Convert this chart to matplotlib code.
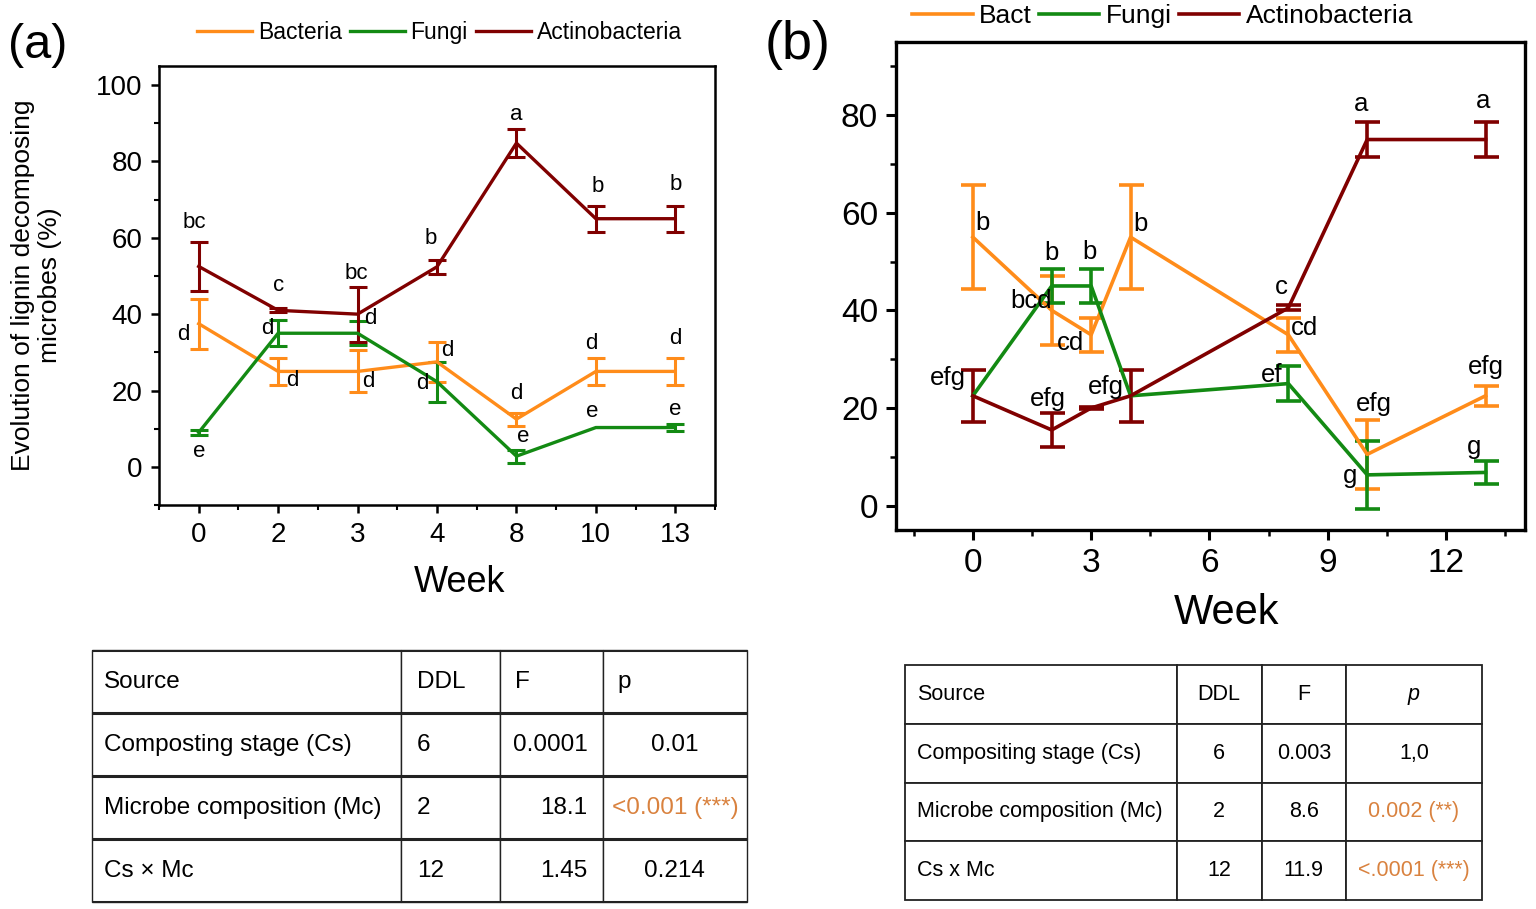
import numpy as np
import matplotlib.pyplot as plt
from matplotlib.ticker import MultipleLocator
from matplotlib.table import Table

plt.rcParams['font.family'] = ['Liberation Sans', 'DejaVu Sans']

c_bact = '#FF8C1A'
c_fung = '#138A13'
c_acti = '#800000'
c_sig = '#D9823F'

## Panel (a): categorical weeks
weeks_a = ['0', '2', '3', '4', '8', '10', '13']
bact_a = [37.5, 25, 25, 27.5, 12.5, 25, 25]
bact_a_err = [6.5, 3.5, 5.5, 5.2, 1.7, 3.5, 3.5]
fung_a = [9, 35, 35, 22.3, 2.8, 10.3, 10.3]
fung_a_err = [0.7, 3.4, 3.2, 5.2, 1.7, np.nan, 0.8]
acti_a = [52.5, 41, 40, 52.4, 84.8, 65, 65]
acti_a_err = [6.5, 0.5, 7.2, 1.8, 3.6, 3.4, 3.4]

## Panel (a): significance letters (x index, y, letter)
bact_a_lab = ['d', 'd', 'd', 'd', 'd', 'd', 'd']
bact_a_lx = [-0.19, 1.18, 2.14, 3.13, 4.0, 4.94, 6.0]
bact_a_ly = [34.8, 22.5, 22.3, 30.6, 19.2, 32.3, 33.6]
fung_a_lab = ['e', 'd', 'd', 'd', 'e', 'e', 'e']
fung_a_lx = [0.0, 0.86, 2.16, 2.81, 4.09, 4.96, 6.0]
fung_a_ly = [3.9, 36.2, 38.9, 21.8, 7.9, 14.4, 15.0]
acti_a_lab = ['bc', 'c', 'bc', 'b', 'a', 'b', 'b']
acti_a_lx = [-0.05, 1.0, 1.98, 2.92, 4.0, 5.02, 6.0]
acti_a_ly = [64.0, 47.4, 50.7, 59.7, 92.3, 73.4, 74.0]

## Panel (b): numeric weeks
weeks_b = [0, 2, 3, 4, 8, 10, 13]
bact_b = [55, 40, 35, 55, 35, 10.5, 22.5]
bact_b_err = [10.6, 7, 3.5, 10.6, 3.5, 7, 2]
fung_b = [22.5, 45, 45, 22.5, 25, 6.3, 6.8]
fung_b_err = [np.nan, 3.5, 3.5, np.nan, 3.6, 7, 2.4]
acti_b = [22.5, 15.5, 20, 22.5, 40.5, 75, 75]
acti_b_err = [5.3, 3.5, 0.3, 5.3, 0.5, 3.5, 3.5]

bact_b_lab = ['b', 'bcd', 'cd', 'b', 'cd', 'efg', 'efg']
bact_b_lx = [0.24, 1.47, 2.48, 4.26, 8.4, 10.16, 13.0]
bact_b_ly = [58.0, 41.9, 33.4, 57.6, 36.3, 20.8, 28.4]
fung_b_lab = ['b', 'b', 'ef', 'g', 'g']
fung_b_lx = [1.99, 2.95, 7.58, 9.57, 12.71]
fung_b_ly = [51.8, 52.0, 26.8, 6.0, 12.0]
acti_b_lab = ['efg', 'efg', 'efg', 'c', 'a', 'a']
acti_b_lx = [-0.64, 1.89, 3.38, 7.81, 9.85, 12.94]
acti_b_ly = [26.1, 21.8, 24.4, 44.8, 82.2, 82.9]

## ANOVA tables
tab_header = ['Source', 'DDL', 'F', 'p']
tab_a_source = ['Composting stage (Cs)', 'Microbe composition (Mc)', 'Cs \u00d7 Mc']
tab_a_ddl = ['6', '2', '12']
tab_a_f = ['0.0001', '18.1', '1.45']
tab_a_p = ['0.01', '<0.001 (***)', '0.214']
tab_a_sig = [False, True, False]

tab_b_source = ['Compositing stage (Cs)', 'Microbe composition (Mc)', 'Cs x Mc']
tab_b_ddl = ['6', '2', '12']
tab_b_f = ['0.003', '8.6', '11.9']
tab_b_p = ['1,0', '0.002 (**)', '<.0001 (***)']
tab_b_sig = [False, True, True]


fig = plt.figure(figsize=(15.36, 9.09), dpi=100)

## ---------------- panel (a)
ax1 = fig.add_axes([0.1035, 0.4444, 0.362, 0.483])
xa = np.arange(len(weeks_a))
handles, names = [], []
for vals, errs, col, name in [(bact_a, bact_a_err, c_bact, 'Bacteria'),
                              (fung_a, fung_a_err, c_fung, 'Fungi'),
                              (acti_a, acti_a_err, c_acti, 'Actinobacteria')]:
    cont = ax1.errorbar(xa, vals, yerr=errs, color=col, lw=2.4, elinewidth=2.2,
                        capsize=6.5, capthick=2.2)
    handles.append(cont[0])
    names.append(name)
for lab, lx, ly in [(bact_a_lab, bact_a_lx, bact_a_ly),
                    (fung_a_lab, fung_a_lx, fung_a_ly),
                    (acti_a_lab, acti_a_lx, acti_a_ly)]:
    for t, x, y in zip(lab, lx, ly):
        ax1.text(x, y, t, ha='center', va='center', fontsize=16, color='black')

ax1.set_xlim(-0.5, 6.5)
ax1.set_ylim(-10, 105)
ax1.set_xticks(xa)
ax1.set_xticklabels(weeks_a)
ax1.xaxis.set_minor_locator(MultipleLocator(0.5))
ax1.set_yticks([0, 20, 40, 60, 80, 100])
ax1.yaxis.set_minor_locator(MultipleLocator(10))
ax1.tick_params(which='major', direction='out', length=6, width=1.8, labelsize=20, pad=6)
ax1.tick_params(which='minor', direction='out', length=3.5, width=1.5)
for sp in ax1.spines.values():
    sp.set_linewidth(1.8)
ax1.set_xlabel('Week', fontsize=26)
ax1.xaxis.set_label_coords(0.541, -0.137)
ax1.set_ylabel('Evolution of lignin decomposing\nmicrobes (%)', fontsize=19, linespacing=1.15)
ax1.yaxis.set_label_coords(-0.175, 0.5)
fig.legend(handles, names, loc='center', bbox_to_anchor=(0.286, 0.9637), ncol=3,
           frameon=False, fontsize=16.5, handlelength=2.4, handletextpad=0.25,
           columnspacing=0.35, borderpad=0)
fig.text(0.005, 0.95, '(a)', fontsize=35, ha='left', va='center')

## ---------------- panel (b)
ax2 = fig.add_axes([0.5833, 0.4169, 0.4095, 0.537])
handles, names = [], []
for vals, errs, col, name in [(bact_b, bact_b_err, c_bact, 'Bact'),
                              (fung_b, fung_b_err, c_fung, 'Fungi'),
                              (acti_b, acti_b_err, c_acti, 'Actinobacteria')]:
    cont = ax2.errorbar(weeks_b, vals, yerr=errs, color=col, lw=2.6, elinewidth=2.6,
                        capsize=9, capthick=2.6)
    handles.append(cont[0])
    names.append(name)
for lab, lx, ly in [(bact_b_lab, bact_b_lx, bact_b_ly),
                    (fung_b_lab, fung_b_lx, fung_b_ly),
                    (acti_b_lab, acti_b_lx, acti_b_ly)]:
    for t, x, y in zip(lab, lx, ly):
        ax2.text(x, y, t, ha='center', va='center', fontsize=18.5, color='black')

ax2.set_xlim(-1.95, 14)
ax2.set_ylim(-5, 95)
ax2.set_xticks([0, 3, 6, 9, 12])
ax2.xaxis.set_minor_locator(MultipleLocator(1.5))
ax2.set_yticks([0, 20, 40, 60, 80])
ax2.yaxis.set_minor_locator(MultipleLocator(10))
ax2.tick_params(which='major', direction='out', length=7, width=2.2, labelsize=24, pad=6)
ax2.tick_params(which='minor', direction='out', length=4, width=1.8)
for sp in ax2.spines.values():
    sp.set_linewidth(2.4)
ax2.set_xlabel('Week', fontsize=30)
ax2.xaxis.set_label_coords(0.526, -0.129)
fig.legend(handles, names, loc='center', bbox_to_anchor=(0.757, 0.982), ncol=3,
           frameon=False, fontsize=19, handlelength=2.3, handletextpad=0.25,
           columnspacing=0.25, borderpad=0)
fig.text(0.498, 0.95, '(b)', fontsize=39, ha='left', va='center')


## ---------------- tables
def draw_table(rect, source, ddl, fval, pval, sig, widths, head_loc, body_loc, pads,
               fsize, edge_lw, thick_lw, italic_p):
    ax = fig.add_axes(rect)
    ax.set_axis_off()
    tb = Table(ax, bbox=[0, 0, 1, 1])
    nrow = len(source) + 1
    h = 1.0 / nrow
    body = [source, ddl, fval, pval]
    for j in range(4):
        for i in range(nrow):
            if i == 0:
                txt, loc = tab_header[j], head_loc[j]
            else:
                txt, loc = body[j][i - 1], body_loc[j]
            cell = tb.add_cell(i, j, widths[j], h, text=txt, loc=loc,
                               edgecolor='#222222', facecolor='white')
            cell.PAD = pads[j]
            cell.set_linewidth(edge_lw)
            if i > 0 and j == 3 and sig[i - 1]:
                cell.get_text().set_color(c_sig)
            if i == 0 and j == 3 and italic_p:
                cell.get_text().set_fontstyle('italic')
    tb.auto_set_font_size(False)
    tb.set_fontsize(fsize)
    ax.add_table(tb)
    if thick_lw:
        for k in range(nrow + 1):
            ax.axhline(k * h, color='#222222', lw=thick_lw)
    return ax


draw_table([0.0599, 0.0077, 0.4264, 0.2772], tab_a_source, tab_a_ddl, tab_a_f, tab_a_p,
           tab_a_sig, [0.472, 0.151, 0.157, 0.220],
           ['left', 'left', 'left', 'left'], ['left', 'left', 'right', 'center'],
           [0.04, 0.16, 0.15, 0.1], 17.5, 1.0, 2.2, False)
draw_table([0.5892, 0.0099, 0.3757, 0.2585], tab_b_source, tab_b_ddl, tab_b_f, tab_b_p,
           tab_b_sig, [0.471, 0.147, 0.146, 0.236],
           ['left', 'center', 'center', 'center'], ['left', 'center', 'center', 'center'],
           [0.045, 0.1, 0.1, 0.1], 15.5, 1.3, 0, True)

fig.savefig('out.png', dpi=100)
